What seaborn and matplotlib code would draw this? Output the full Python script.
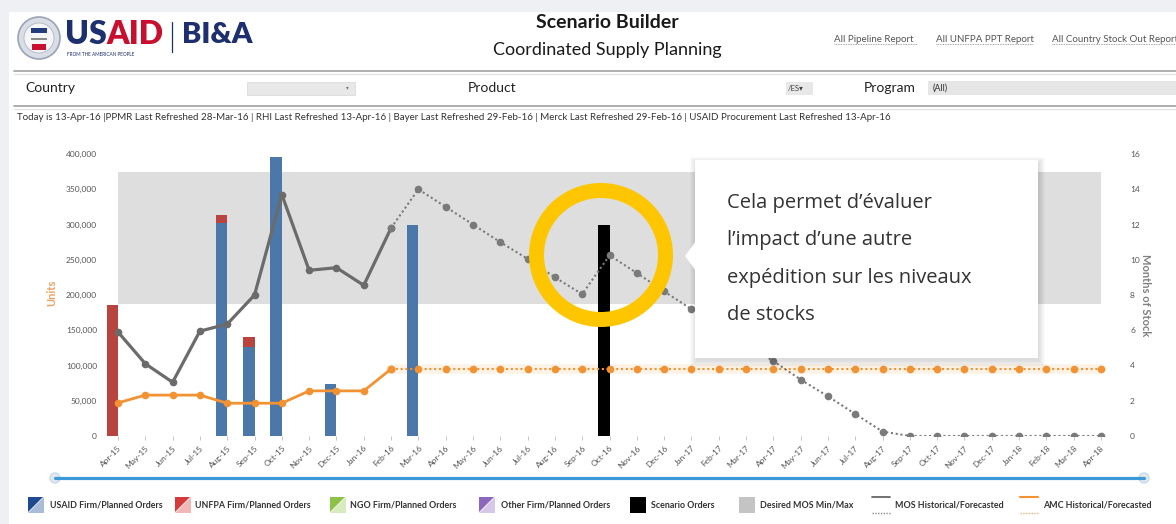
import numpy as np
import pandas as pd
import seaborn as sns
import matplotlib.pyplot as plt
from matplotlib.patches import Rectangle, Circle, Polygon
from matplotlib.lines import Line2D
from matplotlib.transforms import IdentityTransform

W, H = 1176, 524

# ---------------- data ----------------
months = pd.date_range("2015-04-01", "2018-04-01", freq="MS").strftime("%b-%y").tolist()

usaid_months = ["Aug-15", "Sep-15", "Oct-15", "Dec-15", "Mar-16"]
usaid_units = [302000, 126000, 396000, 74000, 300000]
unfpa_months = ["Apr-15", "Aug-15", "Sep-15"]
unfpa_units = [186000, 12000, 14000]
scenario_months = ["Oct-16"]
scenario_units = [300000]

# months of stock (right axis)
mos_hist_months = months[:11]          # Apr-15 .. Feb-16
mos_hist = [5.9, 4.1, 3.05, 5.95, 6.35, 8.0, 13.7, 9.4, 9.55, 8.55, 11.8]
mos_fcst_months = months[10:]          # Feb-16 .. Apr-18
mos_fcst = [11.8, 14.0, 13.0, 12.0, 11.0, 10.05, 9.0, 8.05, 10.25, 9.25, 8.2, 7.2,
            6.2, 5.2, 4.25, 3.2, 2.25, 1.25, 0.25, 0, 0, 0, 0, 0, 0, 0, 0]

# average monthly consumption (left axis)
amc_hist = [47000, 58000, 58000, 58000, 46500, 46500, 46500, 64000, 64000, 64000, 95000]
amc_fcst = [95000, 95000, 95000, 95000, 95000, 95000, 95000, 95000, 95000, 95000,
            95000, 95000, 95000, 95000, 95000, 95000, 95000, 95000, 95000, 95000,
            95000, 95000, 95000, 95000, 95000, 95000, 95000]

mos_min, mos_max = 7.5, 15

BLUE = "#4b77a9"
RED = "#b8433f"
GREY_LINE = "#6b6b6b"
ORANGE = "#f39232"
BAND = "#dedede"

sns.set_theme(style="white")
plt.rcParams["font.family"] = ["Lato", "DejaVu Sans"]

fig = plt.figure(figsize=(W / 100, H / 100), dpi=100)
fig.patch.set_facecolor("white")
PIX = IdentityTransform()


def P(x, y):
    return (x, H - y)


def rect(l, t, r, b):
    return [l / W, 1 - b / H, (r - l) / W, (b - t) / H]


def ftext(x, y, s, **kw):
    kw.setdefault("va", "center")
    return fig.text(x / W, 1 - y / H, s, **kw)


# ---------------- chart axes ----------------
L, T, R, B = 104, 154, 1112, 436
dx = (1101 - 118) / 36
xlim = ((L - 118) / dx, (R - 118) / dx)

ax_band = fig.add_axes(rect(L, T, R, B))
ax = fig.add_axes(rect(L, T, R, B))
ax2 = fig.add_axes(rect(L, T, R, B))
ax_band.set_zorder(0)
ax.set_zorder(1)
ax2.set_zorder(2)
for a in (ax_band, ax, ax2):
    a.patch.set_visible(False)
    a.set_xlim(*xlim)
    for s in a.spines.values():
        s.set_visible(False)

idx = {m: i for i, m in enumerate(months)}

# desired MOS band
ax_band.set_ylim(0, 16)
ax_band.fill_between([0, len(months) - 1], mos_min, mos_max, color=BAND, lw=0)
ax_band.set_xticks([])
ax_band.set_yticks([])

# bars (units)
ax.set_ylim(0, 400000)
bw = -0.42
usaid_x = [idx[m] for m in usaid_months]
ax.bar(usaid_x, usaid_units, width=bw, align="edge", color=BLUE, lw=0, zorder=1)
usaid_lookup = dict(zip(usaid_months, usaid_units))
unfpa_x = [idx[m] for m in unfpa_months]
unfpa_bottom = [usaid_lookup.get(m, 0) for m in unfpa_months]
ax.bar(unfpa_x, unfpa_units, bottom=unfpa_bottom, width=bw, align="edge", color=RED, lw=0,
       zorder=1)
ax.bar([idx[m] for m in scenario_months], scenario_units, width=bw, align="edge",
       color="black", lw=0, zorder=1)

# AMC lines
amc_hist_x = [idx[m] for m in mos_hist_months]
amc_fcst_x = [idx[m] for m in mos_fcst_months]
sns.lineplot(x=amc_fcst_x, y=amc_fcst, ax=ax, color="#fdf1e4", lw=7, alpha=0.9,
             solid_capstyle="round", legend=False, zorder=0.5)
sns.lineplot(x=amc_hist_x, y=amc_hist, ax=ax, color=ORANGE, lw=2.0, marker="o",
             markersize=5.5, markeredgewidth=0, legend=False, zorder=2)
sns.lineplot(x=amc_fcst_x, y=amc_fcst, ax=ax, color=ORANGE, lw=1.5, ls=(0, (1, 1.3)),
             marker="o", markersize=5.5, markeredgewidth=0, legend=False, zorder=2)

# MOS lines
ax2.set_ylim(0, 16)
sns.lineplot(x=amc_hist_x, y=mos_hist, ax=ax2, color=GREY_LINE, lw=2.3, marker="o",
             markersize=5.5, markeredgewidth=0, legend=False)
sns.lineplot(x=amc_fcst_x, y=mos_fcst, ax=ax2, color="#7a7a7a", lw=1.5, ls=(0, (1, 1.3)),
             marker="o", markersize=5.5, markeredgewidth=0, legend=False)

# ticks
tick_color = "#555555"
ax.set_yticks(np.arange(0, 400001, 50000))
ax.set_yticklabels([f"{v:,}" for v in range(0, 400001, 50000)])
ax.tick_params(axis="y", length=0, pad=5, labelsize=6, labelcolor=tick_color)
ax.set_xticks(range(len(months)))
ax.set_xticklabels(months, rotation=45, ha="right", rotation_mode="anchor")
ax.tick_params(axis="x", length=3, width=0.6, color="#bbbbbb", pad=3, labelsize=6,
               labelcolor=tick_color, bottom=True)
ax.set_ylabel("Units", color="#f0a060", fontsize=8, fontweight="bold")
ax.yaxis.set_label_coords((57 - L) / (R - L), (B - 293) / (B - T))

ax2.yaxis.tick_right()
ax2.set_xticks([])
ax2.set_yticks(range(0, 17, 2))
ax2.tick_params(axis="y", length=0, pad=13, labelsize=6, labelcolor=tick_color, right=True)
ax2.yaxis.set_label_position("right")
ax2.set_ylabel("Months of Stock", rotation=270, color="#808080", fontsize=8,
               fontweight="bold", va="center")
ax2.yaxis.set_label_coords((1146 - L) / (R - L), (B - 295) / (B - T))

# ---------------- page frame & header ----------------
fig.add_artist(Rectangle(P(0, 12), W, 12, transform=PIX, color="#eef0f3", lw=0, zorder=-1))
fig.add_artist(Rectangle(P(0, H), 9, H, transform=PIX, color="#eef0f3", lw=0, zorder=-1))

# seal
fig.add_artist(Circle(P(39, 38), 21, transform=PIX, fc="#d9dde6", ec="#9aa3b8", lw=1.2))
fig.add_artist(Circle(P(39, 38), 15, transform=PIX, fc="#f5f5f7", ec="#b0b7c8", lw=0.6))
fig.add_artist(Rectangle(P(31, 33), 16, 5, transform=PIX, fc="#223c7c", lw=0))
fig.add_artist(Rectangle(P(32, 50), 14, 6, transform=PIX, fc="#c8102e", lw=0))
fig.add_artist(Rectangle(P(31, 40), 16, 2, transform=PIX, fc="#8a8a8a", lw=0))

NAVY = "#1d2f6f"
t_us = ftext(65, 35, "US", fontsize=23, fontweight="heavy", color=NAVY, ha="left")
fig.canvas.draw()
bb = t_us.get_window_extent()
fig.text(bb.x1 / W, 1 - 35 / H, "AID", fontsize=23, fontweight="heavy", color="#c8102e",
         ha="left", va="center")
ftext(67, 54, "FROM THE AMERICAN PEOPLE", fontsize=3.4, color=NAVY, ha="left")
fig.add_artist(Line2D([172, 172], [H - 22, H - 52], transform=PIX, color=NAVY, lw=0.9))
ftext(182, 35, "BI&A", fontsize=21, fontweight="heavy", color=NAVY, ha="left")

ftext(607, 22, "Scenario Builder", fontsize=14, fontweight="bold", color="#1a1a1a", ha="center")
ftext(607, 50, "Coordinated Supply Planning", fontsize=13, color="#1a1a1a", ha="center")

for x0, x1, s in [(834, 917, "All Pipeline Report"), (936, 1033, "All UNFPA PPT Report"),
                  (1052, 1190, "All Country Stock Out Report")]:
    ftext(x0, 39, s, fontsize=7, color="#555555", ha="left")
    fig.add_artist(Line2D([x0, x1], [H - 44, H - 44], transform=PIX, color="#8a8a8a",
                          lw=0.6, ls=(0, (1, 1))))

fig.add_artist(Line2D([14, W], [H - 71, H - 71], transform=PIX, color="#a8a8a8", lw=1.3))
fig.add_artist(Line2D([14, W], [H - 73.5, H - 73.5], transform=PIX, color="#e2e2e2", lw=1))
fig.add_artist(Line2D([14, W], [H - 106, H - 106], transform=PIX, color="#a8a8a8", lw=1.3))
fig.add_artist(Line2D([14, W], [H - 108.5, H - 108.5], transform=PIX, color="#e2e2e2", lw=1))

ftext(25, 88, "Country", fontsize=10, color="#222222", ha="left")
fig.add_artist(Rectangle(P(247, 95), 108, 13, transform=PIX, fc="#e8e8e8", ec="#dcdcdc", lw=0.6))
ftext(347, 88, "▾", fontsize=4, color="#777777", ha="center", family=["DejaVu Sans"])
ftext(468, 88, "Product", fontsize=10, color="#222222", ha="left")
fig.add_artist(Rectangle(P(786, 95), 27, 13, transform=PIX, fc="#e8e8e8", lw=0))
ftext(788, 88, "/ES▾", fontsize=5.5, color="#444444", ha="left", family=["Lato", "DejaVu Sans"])
ftext(864, 88, "Program", fontsize=10, color="#222222", ha="left")
fig.add_artist(Rectangle(P(928, 95), W - 928, 14, transform=PIX, fc="#e6e6e6", lw=0))
ftext(933, 88, "(All)", fontsize=6.5, color="#333333", ha="left")

ftext(17, 117, "Today is 13-Apr-16 |PPMR Last Refreshed 28-Mar-16 | RHI Last Refreshed 13-Apr-16 | "
      "Bayer Last Refreshed 29-Feb-16 | Merck Last Refreshed 29-Feb-16 | USAID Procurement "
      "Last Refreshed 13-Apr-16", fontsize=7, color="#333333", ha="left")

# ---------------- slider ----------------
fig.add_artist(Line2D([55, 1144], [H - 478, H - 478], transform=PIX, color="#3d9ad8", lw=2.3))
for cx in (55, 1144):
    fig.add_artist(Circle(P(cx, 478), 5, transform=PIX, fc="#e4e7ec", ec="#c6dcef", lw=1))

# ---------------- legend ----------------
def tri_icon(x0, dark, light):
    y0, s = 497, 16
    fig.add_artist(Polygon([P(x0, y0 + s), P(x0 + s, y0 + s), P(x0 + s, y0)], closed=True,
                           transform=PIX, fc=light, lw=0))
    fig.add_artist(Polygon([P(x0, y0), P(x0 + s - 1, y0), P(x0, y0 + s - 1)], closed=True,
                           transform=PIX, fc=dark, lw=0))


lg = dict(fontsize=6.4, fontweight="bold", color="#333333", ha="left")
tri_icon(28, "#1f4a8f", "#a9bddb")
ftext(50, 505, "USAID Firm/Planned Orders", **lg)
tri_icon(175, "#d63b3b", "#f2b8b8")
ftext(195, 505, "UNFPA Firm/Planned Orders", **lg)
tri_icon(330, "#8cc24a", "#d8ebbd")
ftext(350, 505, "NGO Firm/Planned Orders", **lg)
tri_icon(479, "#8a66bd", "#d6c8ea")
ftext(501, 505, "Other Firm/Planned Orders", **lg)
fig.add_artist(Rectangle(P(630, 513), 16, 16, transform=PIX, fc="black", lw=0))
ftext(651, 505, "Scenario Orders", **lg)
fig.add_artist(Rectangle(P(739, 513), 16, 16, transform=PIX, fc="#c4c4c4", lw=0))
ftext(760, 505, "Desired MOS Min/Max", **lg)
fig.add_artist(Line2D([872, 890], [H - 497, H - 497], transform=PIX, color="#666666", lw=1.3))
fig.add_artist(Line2D([872, 890], [H - 513, H - 513], transform=PIX, color="#888888", lw=1,
                      ls=(0, (1, 1))))
ftext(895, 505, "MOS Historical/Forecasted", **lg)
fig.add_artist(Line2D([1020, 1038], [H - 497, H - 497], transform=PIX, color=ORANGE, lw=1.5))
fig.add_artist(Line2D([1020, 1038], [H - 513, H - 513], transform=PIX, color="#f5b27a", lw=1,
                      ls=(0, (1, 1))))
ftext(1043, 505, "AMC Historical/Forecasted", **lg)

# ---------------- callout ----------------
for k in range(7, 0, -1):
    fig.add_artist(Rectangle(P(695 - k + 2, 358 + k + 2), 343 + 2 * k - 2, 198 + 2 * k - 2,
                             transform=PIX, fc="black", alpha=0.018, lw=0, zorder=9))
fig.add_artist(Rectangle(P(695, 358), 343, 198, transform=PIX, fc="white", lw=0, zorder=10))
fig.add_artist(Polygon([P(685, 256), P(696, 241), P(696, 271)], closed=True, transform=PIX,
                       fc="white", lw=0, zorder=10))
for i, line in enumerate(["Cela permet d’évaluer", "l’impact d’une autre",
                          "expédition sur les niveaux", "de stocks"]):
    t = ftext(727, 203 + i * 37.3, line, fontsize=14.5, color="#333333", ha="left",
              family=["Open Sans", "DejaVu Sans"])
    t.set_zorder(11)

fig.add_artist(Circle(P(601, 255), 64.5, transform=PIX, fill=False, ec="#fdc600", lw=10.8,
                      zorder=12))

fig.savefig("out.png", dpi=100, facecolor=fig.get_facecolor())
